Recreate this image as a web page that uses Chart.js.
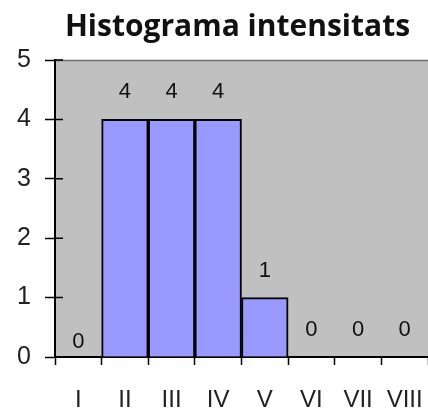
<!DOCTYPE html>
<html lang="ca">
<head>
<meta charset="UTF-8">
<title>Histograma intensitats</title>
<script src="https://cdn.jsdelivr.net/npm/chart.js"></script>
<style>
    html, body { margin: 0; padding: 0; background: #ffffff; overflow: hidden; }
    .wrap { width: 428px; height: 417px; }
</style>
</head>
<body>
<div class="wrap"><canvas id="histo"></canvas></div>
<script>
const categories = ['I', 'II', 'III', 'IV', 'V', 'VI', 'VII', 'VIII'];
const counts = [0, 4, 4, 4, 1, 0, 0, 0];
const yTicks = [0, 1, 2, 3, 4, 5];
const chartTitle = 'Histograma intensitats';

// grey plot area, inner y tick marks, value labels and the title
// (title is centred over the plot area like in the original, not the canvas)
const plotArea = {
    id: 'plotArea',
    beforeDraw(chart) {
        const { ctx, chartArea: a } = chart;
        ctx.save();
        ctx.fillStyle = '#c0c0c0';
        ctx.fillRect(a.left, a.top, a.right - a.left, a.bottom - a.top);
        ctx.strokeStyle = '#6e6e6e';
        ctx.lineWidth = 1.5;
        ctx.beginPath();
        ctx.moveTo(a.left, a.top + 0.5);
        ctx.lineTo(a.right, a.top + 0.5);
        ctx.stroke();

        ctx.fillStyle = '#111';
        ctx.font = 'bold 30px "Open Sans", "Noto Sans", sans-serif';
        ctx.textAlign = 'center';
        ctx.textBaseline = 'middle';
        ctx.fillText(chartTitle, (a.left + a.right) / 2 - 4, 27);
        ctx.restore();
    },
    afterDatasetsDraw(chart) {
        const { ctx, chartArea: a, scales } = chart;
        ctx.save();
        ctx.strokeStyle = '#000';
        ctx.lineWidth = 1.5;
        ctx.beginPath();
        yTicks.forEach(v => {
            const y = scales.y.getPixelForValue(v);
            ctx.moveTo(a.left, y);
            ctx.lineTo(a.left + 8, y);
        });
        ctx.stroke();
        // value labels above bars
        ctx.fillStyle = '#111';
        ctx.font = '22px "Liberation Sans", Arial, sans-serif';
        ctx.textAlign = 'center';
        ctx.textBaseline = 'middle';
        const meta = chart.getDatasetMeta(0);
        meta.data.forEach((bar, i) => {
            const off = counts[i] === 0 && i === 0 ? 15 : 27;
            ctx.fillText(String(counts[i]), bar.x, scales.y.getPixelForValue(counts[i]) - off);
        });
        ctx.restore();
    }
};

new Chart(document.getElementById('histo'), {
    type: 'bar',
    data: {
        labels: categories,
        datasets: [{
            data: counts,
            backgroundColor: '#9999ff',
            borderColor: '#000000',
            borderWidth: 2,
            barPercentage: 1,
            categoryPercentage: 1
        }]
    },
    options: {
        responsive: true,
        maintainAspectRatio: false,
        animation: false,
        layout: { padding: { top: 60, left: 0, right: 0, bottom: 0 } },
        plugins: {
            legend: { display: false },
            tooltip: { enabled: false },
            title: { display: false }
        },
        scales: {
            x: {
                offset: true,
                grid: { offset: true, drawOnChartArea: false, color: '#000', tickLength: 8, tickWidth: 1.5 },
                border: { color: '#000', width: 2 },
                ticks: {
                    color: '#222',
                    font: { family: '"Liberation Sans", Arial, sans-serif', size: 24 },
                    padding: 21,
                    maxRotation: 0,
                    autoSkip: false
                },
                afterFit(scale) {
                    scale.height = 60;
                    scale.paddingLeft = 0;
                    scale.paddingRight = 0;
                }
            },
            y: {
                min: 0,
                max: 5,
                ticks: {
                    stepSize: 1,
                    color: '#222',
                    font: { family: '"Liberation Sans", Arial, sans-serif', size: 25 },
                    padding: 14
                },
                grid: { drawOnChartArea: false, color: '#000', tickLength: 10, tickWidth: 1.5 },
                border: { color: '#000', width: 2 },
                afterFit(scale) {
                    scale.width = 55;
                    scale.paddingTop = 0;
                    scale.paddingBottom = 0;
                }
            }
        }
    },
    plugins: [plotArea]
});
</script>
</body>
</html>
